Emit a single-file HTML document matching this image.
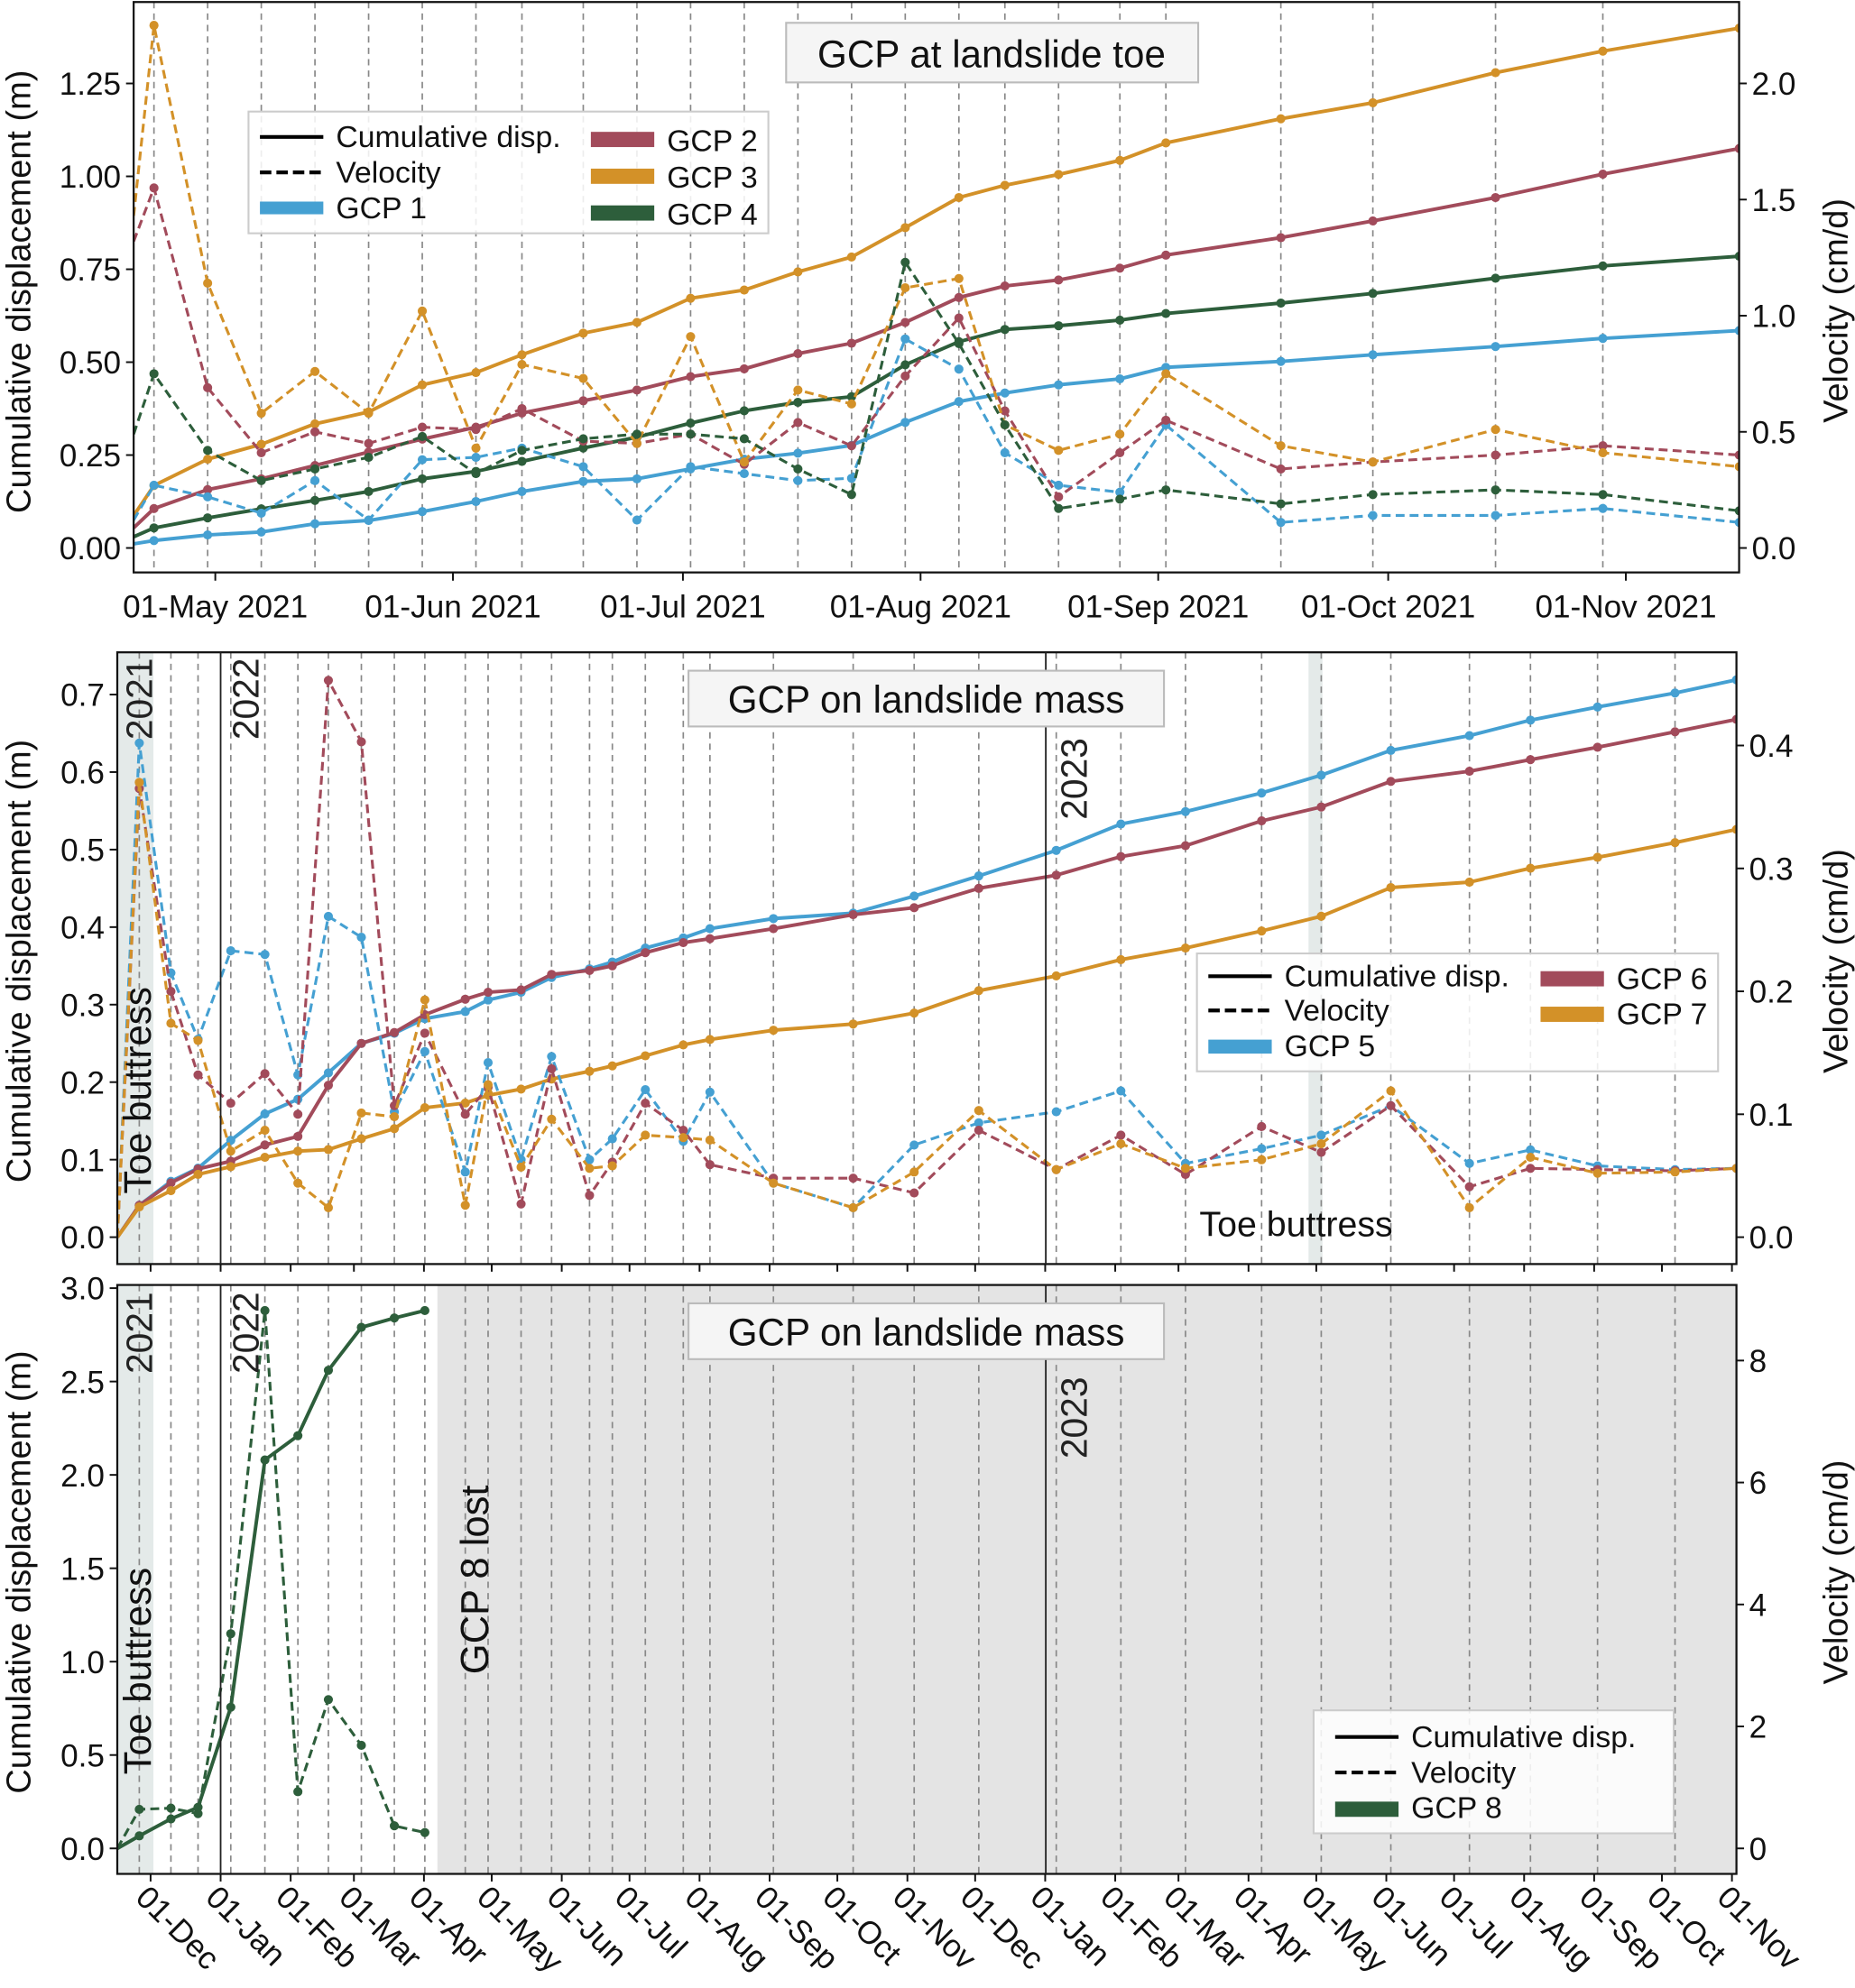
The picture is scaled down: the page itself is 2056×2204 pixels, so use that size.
<!DOCTYPE html>
<html><head><meta charset="utf-8"><title>GCP displacement and velocity</title>
<style>
html,body{margin:0;padding:0;background:#fff;}
svg{display:block;font-family:"Liberation Sans",sans-serif;}
</style></head>
<body>
<svg id="chart" xmlns="http://www.w3.org/2000/svg" width="2056" height="2204" viewBox="0 0 1463 1568" preserveAspectRatio="none">
<defs>
<clipPath id="clip1"><rect x="105.4" y="1.6" width="1266.2" height="449.9"/></clipPath>
<clipPath id="clip2"><rect x="92.5" y="514.5" width="1277" height="482.5"/></clipPath>
<clipPath id="clip3"><rect x="92.5" y="1013.5" width="1277" height="464.5"/></clipPath>
</defs>
<rect x="0" y="0" width="1463" height="1568" fill="#fff"/>
<!-- shading -->
<rect x="92.5" y="514.5" width="28.5" height="482.5" fill="#e4eae9"/>
<rect x="1032" y="514.5" width="11" height="482.5" fill="#e4eae9"/>
<rect x="92.5" y="1013.5" width="28.5" height="464.5" fill="#e4eae9"/>
<rect x="345" y="1013.5" width="1024.5" height="464.5" fill="#e4e4e4"/>
<g id="grid"></g>
<g id="series1" clip-path="url(#clip1)"></g>
<g id="series2" clip-path="url(#clip2)"></g>
<g id="series3" clip-path="url(#clip3)"></g>
<g id="axes"></g>
<!-- year lines -->
<line x1="174" y1="514.5" x2="174" y2="997" stroke="#222" stroke-width="1.3"/>
<line x1="824.8" y1="514.5" x2="824.8" y2="997" stroke="#222" stroke-width="1.3"/>
<line x1="174" y1="1013.5" x2="174" y2="1478" stroke="#222" stroke-width="1.3"/>
<line x1="824.8" y1="1013.5" x2="824.8" y2="1478" stroke="#222" stroke-width="1.3"/>
<g font-size="29" fill="#222">
<text transform="translate(120,519) rotate(-90)" text-anchor="end">2021</text>
<text transform="translate(204,519) rotate(-90)" text-anchor="end">2022</text>
<text transform="translate(857,582) rotate(-90)" text-anchor="end">2023</text>
<text transform="translate(120,1019) rotate(-90)" text-anchor="end">2021</text>
<text transform="translate(204,1019) rotate(-90)" text-anchor="end">2022</text>
<text transform="translate(857,1086) rotate(-90)" text-anchor="end">2023</text>
</g>
<g font-size="30" fill="#111">
<text transform="translate(119,860) rotate(-90)" text-anchor="middle">Toe buttress</text>
<text transform="translate(119,1318) rotate(-90)" text-anchor="middle">Toe buttress</text>
<text x="946" y="975" font-size="28">Toe buttress</text>
<text transform="translate(385,1246) rotate(-90)" text-anchor="middle" font-size="31">GCP 8 lost</text>
</g>
<!-- titles -->
<g>
<rect x="620" y="18" width="325" height="47" fill="#f5f5f5" stroke="#bbb" stroke-width="1.5"/>
<text x="782" y="53" font-size="30" text-anchor="middle" fill="#111">GCP at landslide toe</text>
</g>
<g>
<rect x="543" y="529" width="375" height="44" fill="#f5f5f5" stroke="#bbb" stroke-width="1.5"/>
<text x="730.5" y="562" font-size="30" text-anchor="middle" fill="#111">GCP on landslide mass</text>
</g>
<g>
<rect x="543" y="1028" width="375" height="44" fill="#f5f5f5" stroke="#bbb" stroke-width="1.5"/>
<text x="730.5" y="1061" font-size="30" text-anchor="middle" fill="#111">GCP on landslide mass</text>
</g>
<!-- legends -->
<g font-size="24" fill="#111">
<rect x="196" y="88" width="410" height="96" fill="#fff" fill-opacity="0.85" stroke="#ccc" stroke-width="1.5"/>
<line x1="205" y1="108" x2="255" y2="108" stroke="#000" stroke-width="3"/><text x="265" y="116">Cumulative disp.</text>
<line x1="205" y1="136" x2="255" y2="136" stroke="#000" stroke-width="3" stroke-dasharray="9,4"/><text x="265" y="144">Velocity</text>
<rect x="205" y="159" width="50" height="10" fill="#45a0d2"/><text x="265" y="172">GCP 1</text>
<rect x="466" y="104" width="50" height="12" fill="#a24b5b"/><text x="526" y="119">GCP 2</text>
<rect x="466" y="133" width="50" height="12" fill="#d39128"/><text x="526" y="148">GCP 3</text>
<rect x="466" y="162" width="50" height="12" fill="#2d5e3b"/><text x="526" y="177">GCP 4</text>
</g>
<g font-size="24" fill="#111">
<rect x="944" y="752" width="411" height="93" fill="#fff" fill-opacity="0.85" stroke="#ccc" stroke-width="1.5"/>
<line x1="953" y1="770" x2="1003" y2="770" stroke="#000" stroke-width="3"/><text x="1013" y="778">Cumulative disp.</text>
<line x1="953" y1="797" x2="1003" y2="797" stroke="#000" stroke-width="3" stroke-dasharray="9,4"/><text x="1013" y="805">Velocity</text>
<rect x="953" y="820" width="50" height="11" fill="#45a0d2"/><text x="1013" y="833">GCP 5</text>
<rect x="1215" y="766" width="50" height="12" fill="#a24b5b"/><text x="1275" y="780">GCP 6</text>
<rect x="1215" y="794" width="50" height="12" fill="#d39128"/><text x="1275" y="808">GCP 7</text>
</g>
<g font-size="24" fill="#111">
<rect x="1036" y="1349" width="284" height="97" fill="#fff" fill-opacity="0.85" stroke="#ccc" stroke-width="1.5"/>
<line x1="1053" y1="1370" x2="1103" y2="1370" stroke="#000" stroke-width="3"/><text x="1113" y="1378">Cumulative disp.</text>
<line x1="1053" y1="1398" x2="1103" y2="1398" stroke="#000" stroke-width="3" stroke-dasharray="9,4"/><text x="1113" y="1406">Velocity</text>
<rect x="1053" y="1421" width="50" height="12" fill="#2d5e3b"/><text x="1113" y="1434">GCP 8</text>
</g>
<!-- axis titles -->
<g font-size="27" fill="#111">
<text transform="translate(24,230) rotate(-90)" text-anchor="middle">Cumulative displacement (m)</text>
<text transform="translate(1457,245) rotate(-90)" text-anchor="middle">Velocity (cm/d)</text>
<text transform="translate(24,758) rotate(-90)" text-anchor="middle">Cumulative displacement (m)</text>
<text transform="translate(1457,758) rotate(-90)" text-anchor="middle">Velocity (cm/d)</text>
<text transform="translate(24,1240) rotate(-90)" text-anchor="middle">Cumulative displacement (m)</text>
<text transform="translate(1457,1240) rotate(-90)" text-anchor="middle">Velocity (cm/d)</text>
</g>
</svg>
<script>
// ---------- Panel 1 data (days from 01-May-2021) ----------
const p1Days = [-10.65,-8,-1,6,13,20,27,34,40,48,55,62,69,76,83,90,97,103,110,118,124,139,151,167,181,198.8];
const gcp1Cum = [0.011,0.02,0.035,0.043,0.065,0.074,0.098,0.125,0.152,0.179,0.186,0.213,0.239,0.255,0.276,0.338,0.394,0.417,0.439,0.455,0.486,0.502,0.52,0.542,0.564,0.585];
const gcp2Cum = [0.054,0.106,0.157,0.186,0.222,0.258,0.293,0.325,0.363,0.396,0.425,0.461,0.482,0.523,0.551,0.607,0.674,0.705,0.721,0.753,0.788,0.835,0.88,0.943,1.006,1.075];
const gcp3Cum = [0.087,0.168,0.239,0.279,0.334,0.366,0.439,0.472,0.52,0.578,0.607,0.672,0.694,0.743,0.783,0.862,0.943,0.976,1.005,1.043,1.09,1.155,1.198,1.279,1.337,1.399];
const gcp4Cum = [0.03,0.054,0.081,0.105,0.128,0.152,0.186,0.206,0.233,0.269,0.298,0.336,0.369,0.392,0.407,0.493,0.555,0.588,0.598,0.613,0.631,0.659,0.685,0.726,0.759,0.785];
const gcp1Vel = [0.12,0.27,0.22,0.15,0.29,0.12,0.38,0.39,0.43,0.35,0.12,0.35,0.32,0.29,0.30,0.90,0.77,0.41,0.27,0.24,0.53,0.11,0.14,0.14,0.17,0.11];
const gcp2Vel = [1.32,1.55,0.69,0.41,0.50,0.45,0.52,0.51,0.60,0.46,0.45,0.49,0.36,0.54,0.44,0.74,0.99,0.59,0.22,0.41,0.55,0.34,0.37,0.40,0.44,0.40];
const gcp3Vel = [1.43,2.25,1.14,0.58,0.76,0.58,1.02,0.43,0.79,0.73,0.45,0.91,0.37,0.68,0.62,1.12,1.16,0.53,0.42,0.49,0.75,0.44,0.37,0.51,0.41,0.35];
const gcp4Vel = [0.49,0.75,0.42,0.29,0.34,0.39,0.48,0.32,0.42,0.47,0.49,0.49,0.47,0.34,0.23,1.23,0.88,0.53,0.17,0.21,0.25,0.19,0.23,0.25,0.23,0.16];
const p1TickDays = [0,31,61,92,123,153,184];
const p1TickLabels = ["01-May 2021","01-Jun 2021","01-Jul 2021","01-Aug 2021","01-Sep 2021","01-Oct 2021","01-Nov 2021"];
const p1LeftTicks = [0,0.25,0.5,0.75,1.0,1.25];
const p1LeftLabels = ["0.00","0.25","0.50","0.75","1.00","1.25"];
const p1RightTicks = [0,0.5,1.0,1.5,2.0];
const p1RightLabels = ["0.0","0.5","1.0","1.5","2.0"];

// ---------- Panel 2 data (days from 01-Jan-2022) ----------
const p2Days = [-45.7,-36,-22,-10,4.5,19.6,34.2,47.7,62.3,76.9,90.4,108.3,118.4,133,146.5,163.3,173.4,188,204.8,216.6,244.7,280,307,335.6,369.9,398.5,427.1,460.8,487.2,518,552.8,579.8,609.5,643.8,671];
const gcp5Cum = [0,0.041,0.072,0.089,0.125,0.159,0.178,0.212,0.25,0.263,0.282,0.291,0.306,0.316,0.335,0.346,0.355,0.373,0.386,0.398,0.411,0.418,0.44,0.466,0.499,0.533,0.549,0.573,0.596,0.628,0.647,0.667,0.684,0.702,0.719];
const gcp6Cum = [0,0.041,0.07,0.088,0.098,0.119,0.13,0.196,0.25,0.264,0.287,0.307,0.316,0.319,0.339,0.344,0.35,0.367,0.38,0.385,0.398,0.416,0.425,0.45,0.467,0.491,0.505,0.537,0.555,0.588,0.601,0.616,0.632,0.652,0.668];
const gcp7Cum = [0,0.039,0.06,0.081,0.091,0.103,0.111,0.113,0.127,0.14,0.167,0.173,0.183,0.191,0.204,0.214,0.221,0.234,0.248,0.255,0.267,0.275,0.289,0.318,0.337,0.358,0.373,0.395,0.414,0.451,0.458,0.476,0.49,0.509,0.526];
const gcp5Vel = [0,0.402,0.215,0.161,0.233,0.23,0.132,0.261,0.244,0.102,0.151,0.053,0.142,0.063,0.147,0.063,0.08,0.12,0.078,0.118,0.044,0.024,0.075,0.093,0.102,0.119,0.06,0.072,0.083,0.107,0.06,0.071,0.058,0.055,0.056];
const gcp6Vel = [0,0.365,0.2,0.132,0.109,0.133,0.1,0.453,0.403,0.107,0.166,0.1,0.122,0.027,0.137,0.034,0.061,0.109,0.087,0.059,0.048,0.048,0.036,0.087,0.055,0.083,0.051,0.09,0.069,0.107,0.041,0.056,0.055,0.054,0.056];
const gcp7Vel = [0,0.37,0.174,0.16,0.07,0.087,0.044,0.024,0.101,0.098,0.193,0.026,0.124,0.057,0.096,0.056,0.058,0.083,0.081,0.079,0.044,0.024,0.053,0.103,0.055,0.076,0.056,0.063,0.076,0.119,0.024,0.065,0.052,0.053,0.056];
const p2LeftTicks = [0,0.1,0.2,0.3,0.4,0.5,0.6,0.7];
const p2LeftLabels = ["0.0","0.1","0.2","0.3","0.4","0.5","0.6","0.7"];
const p2RightTicks = [0,0.1,0.2,0.3,0.4];
const p2RightLabels = ["0.0","0.1","0.2","0.3","0.4"];

// ---------- Panel 3 data ----------
const p3Days = [-45.7,-36,-22,-10,4.5,19.6,34.2,47.7,62.3,76.9,90.4];
const gcp8Cum = [0,0.067,0.158,0.22,0.756,2.08,2.21,2.56,2.79,2.84,2.88];
const gcp8Vel = [0,0.64,0.66,0.57,3.52,8.82,0.93,2.44,1.69,0.37,0.26];
const p3LeftTicks = [0,0.5,1.0,1.5,2.0,2.5,3.0];
const p3LeftLabels = ["0.0","0.5","1.0","1.5","2.0","2.5","3.0"];
const p3RightTicks = [0,2,4,6,8];
const p3RightLabels = ["0","2","4","6","8"];
const monthTickDays = [-31,0,31,59,90,120,151,181,212,243,273,304,334,365,396,424,455,485,516,546,577,608,638,669];
const monthTickLabels = ["01-Dec","01-Jan","01-Feb","01-Mar","01-Apr","01-May","01-Jun","01-Jul","01-Aug","01-Sep","01-Oct","01-Nov","01-Dec","01-Jan","01-Feb","01-Mar","01-Apr","01-May","01-Jun","01-Jul","01-Aug","01-Sep","01-Oct","01-Nov"];

const NS = "http://www.w3.org/2000/svg";
const C = {blue:"#45a0d2", red:"#a24b5b", orange:"#d39128", green:"#2d5e3b"};

// axis functions
const x1 = d => 169.8 + d * 6.046;
const yL1 = v => 432.2 - v * 293.1;
const yR1 = v => 432.2 - v * 183.2;
const x2 = d => 174 + d * 1.7817;
const yL2 = v => 975.8 - v * 611.4;
const yR2 = v => 975.8 - v * 969.5;
const yL3 = v => 1457.9 - v * 147.3;
const yR3 = v => 1457.9 - v * 48.1;

function mk(tag, attrs, parent) {
  const e = document.createElementNS(NS, tag);
  for (const k in attrs) e.setAttribute(k, attrs[k]);
  parent.appendChild(e);
  return e;
}
const grid = document.getElementById('grid');
const axes = document.getElementById('axes');

function vlines(days, xf, y0, y1, name, skipFirst) {
  days.forEach((d, i) => {
    if (skipFirst && i === 0) return;
    const l = mk('line', {x1: xf(d), x2: xf(d), y1: y0, y2: y1, stroke: '#888', 'stroke-width': 1.2, 'stroke-dasharray': '5,4'}, grid);
    
    
  });
}
vlines(p1Days.slice(0, -1), x1, 1.6, 451.5, 'date-gridline-toe', true);
vlines(p2Days.slice(0, -1), x2, 514.5, 997, 'date-gridline-mass', true);
vlines(p2Days.slice(0, -1), x2, 1013.5, 1478, 'date-gridline-gcp8', true);

function series(gid, days, vals, xf, yf, color, dashed, name, skipMarkerFirst) {
  const g = document.getElementById(gid);
  const pts = days.map((d, i) => xf(d).toFixed(2) + ',' + yf(vals[i]).toFixed(2)).join(' ');
  const pl = mk('polyline', {points: pts, fill: 'none', stroke: color, 'stroke-width': dashed ? 2.2 : 2.8, 'stroke-linejoin': 'round'}, g);
  if (dashed) pl.setAttribute('stroke-dasharray', '7,4');
  
  
  days.forEach((d, i) => {
    if (skipMarkerFirst && i === 0) return;
    const c = mk('circle', {cx: xf(d), cy: yf(vals[i]), r: 3.6, fill: color}, g);
    
    
  });
}
// panel 1
series('series1', p1Days, gcp1Cum, x1, yL1, C.blue, false, 'gcp1-cumulative', true);
series('series1', p1Days, gcp2Cum, x1, yL1, C.red, false, 'gcp2-cumulative', true);
series('series1', p1Days, gcp3Cum, x1, yL1, C.orange, false, 'gcp3-cumulative', true);
series('series1', p1Days, gcp4Cum, x1, yL1, C.green, false, 'gcp4-cumulative', true);
series('series1', p1Days, gcp1Vel, x1, yR1, C.blue, true, 'gcp1-velocity', true);
series('series1', p1Days, gcp2Vel, x1, yR1, C.red, true, 'gcp2-velocity', true);
series('series1', p1Days, gcp3Vel, x1, yR1, C.orange, true, 'gcp3-velocity', true);
series('series1', p1Days, gcp4Vel, x1, yR1, C.green, true, 'gcp4-velocity', true);
// panel 2
series('series2', p2Days, gcp5Cum, x2, yL2, C.blue, false, 'gcp5-cumulative', true);
series('series2', p2Days, gcp6Cum, x2, yL2, C.red, false, 'gcp6-cumulative', true);
series('series2', p2Days, gcp7Cum, x2, yL2, C.orange, false, 'gcp7-cumulative', true);
series('series2', p2Days, gcp5Vel, x2, yR2, C.blue, true, 'gcp5-velocity', true);
series('series2', p2Days, gcp6Vel, x2, yR2, C.red, true, 'gcp6-velocity', true);
series('series2', p2Days, gcp7Vel, x2, yR2, C.orange, true, 'gcp7-velocity', true);
// panel 3
series('series3', p3Days, gcp8Cum, x2, yL3, C.green, false, 'gcp8-cumulative', true);
series('series3', p3Days, gcp8Vel, x2, yR3, C.green, true, 'gcp8-velocity', true);

// frames
function frame(x, y, w, h, name) {
  const r = mk('rect', {x: x, y: y, width: w, height: h, fill: 'none', stroke: '#111', 'stroke-width': 1.6}, axes);
  
  
}
frame(105.4, 1.6, 1266.2, 449.9, 'plot-frame-toe');
frame(92.5, 514.5, 1277, 482.5, 'plot-frame-mass');
frame(92.5, 1013.5, 1277, 464.5, 'plot-frame-gcp8');

function yticks(ticks, labels, yf, xEdge, side, name) {
  ticks.forEach((t, i) => {
    const y = yf(t);
    const dx = side === 'left' ? -6 : 6;
    const l = mk('line', {x1: xEdge, x2: xEdge + dx, y1: y, y2: y, stroke: '#111', 'stroke-width': 1.4}, axes);
    
    
    const tx = mk('text', {x: xEdge + (side === 'left' ? -10 : 10), y: y + 9, 'font-size': 25, fill: '#111', 'text-anchor': side === 'left' ? 'end' : 'start'}, axes);
    tx.textContent = labels[i];
    
    
  });
}
yticks(p1LeftTicks, p1LeftLabels, yL1, 105.4, 'left', 'y-axis-left-toe');
yticks(p1RightTicks, p1RightLabels, yR1, 1371.6, 'right', 'y-axis-right-toe');
yticks(p2LeftTicks, p2LeftLabels, yL2, 92.5, 'left', 'y-axis-left-mass');
yticks(p2RightTicks, p2RightLabels, yR2, 1369.5, 'right', 'y-axis-right-mass');
yticks(p3LeftTicks, p3LeftLabels, yL3, 92.5, 'left', 'y-axis-left-gcp8');
yticks(p3RightTicks, p3RightLabels, yR3, 1369.5, 'right', 'y-axis-right-gcp8');

// x ticks panel 1
p1TickDays.forEach((d, i) => {
  const x = x1(d);
  const l = mk('line', {x1: x, x2: x, y1: 451.5, y2: 458, stroke: '#111', 'stroke-width': 1.4}, axes);
  
  
  const t = mk('text', {x: x, y: 487, 'font-size': 25, fill: '#111', 'text-anchor': 'middle'}, axes);
  t.textContent = p1TickLabels[i];
  
  
});
// x ticks panels 2/3
monthTickDays.forEach((d, i) => {
  const x = x2(d);
  const l2 = mk('line', {x1: x, x2: x, y1: 997, y2: 1003, stroke: '#111', 'stroke-width': 1.4}, axes);
  
  
  const l3 = mk('line', {x1: x, x2: x, y1: 1478, y2: 1484, stroke: '#111', 'stroke-width': 1.4}, axes);
  
  
  const t = mk('text', {transform: 'translate(' + (x - 13) + ',1498) rotate(45)', 'font-size': 25, fill: '#111', 'text-anchor': 'start'}, axes);
  t.textContent = monthTickLabels[i];
  
  
});
</script>
</body></html>
